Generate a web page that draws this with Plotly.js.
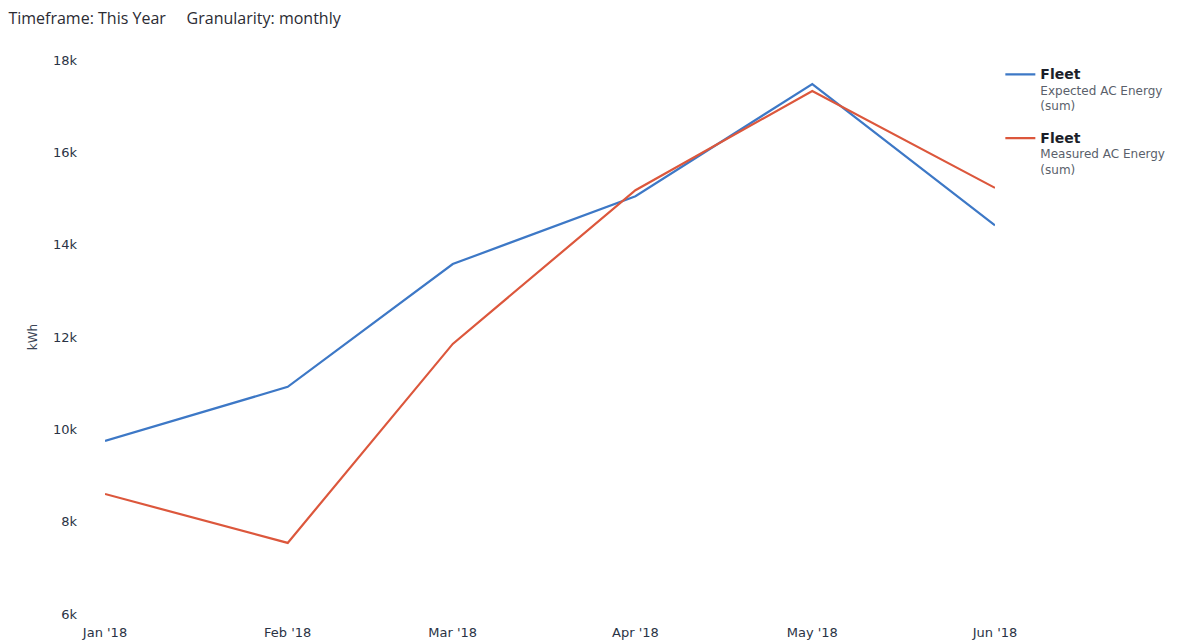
<!DOCTYPE html>
<html>
<head>
<meta charset="utf-8">
<script src="https://cdn.plot.ly/plotly-3.0.1.min.js"></script>
<style>html,body{margin:0;padding:0;background:#fff;}#chart{width:1202px;height:642px;}</style>
</head>
<body>
<div id="chart"></div>
<script>
const months = ['2018-01-01','2018-02-01','2018-03-01','2018-04-01','2018-05-01','2018-06-01'];
const expectedEnergy = [9750, 10920, 13580, 15050, 17480, 14420];
const measuredEnergy = [8600, 7540, 11850, 15180, 17330, 15230];
const seriesNames = [
  '<span style="font-size:14px"><b>Fleet</b></span><br><span style="color:#5a5f6b">Expected AC Energy<br>(sum)</span>',
  '<span style="font-size:14px"><b>Fleet</b></span><br><span style="color:#5a5f6b">Measured AC Energy<br>(sum)</span>'
];
const yTicks = [6000, 8000, 10000, 12000, 14000, 16000, 18000];

const traces = [
  {x: months, y: expectedEnergy, type: 'scatter', mode: 'lines', name: seriesNames[0],
   legendgroup: 'expected', line: {color: '#3d78c6', width: 2.2}},
  {x: months, y: measuredEnergy, type: 'scatter', mode: 'lines', name: seriesNames[1],
   legendgroup: 'measured', line: {color: '#dc573c', width: 2.2}}
];

const layout = {
  width: 1202, height: 642,
  paper_bgcolor: '#ffffff', plot_bgcolor: '#ffffff',
  margin: {l: 105, r: 207, t: 60, b: 28},
  font: {family: 'DejaVu Sans, sans-serif', size: 13, color: '#2a3345'},
  title: {text: 'Timeframe: This Year&nbsp;&nbsp;&nbsp;&nbsp;&nbsp;Granularity: monthly',
          x: 0.007, xanchor: 'left', y: 0.972, yanchor: 'middle',
          font: {family: 'Open Sans, sans-serif', size: 16, color: '#2b2b33'}},
  xaxis: {type: 'date', range: ['2018-01-01', '2018-06-01'], tickvals: months,
          tickformat: "%b '%y", showgrid: false, zeroline: false, showline: false,
          ticks: '', ticklabelstandoff: 9, tickfont: {size: 13, color: '#2a3345'}},
  yaxis: {range: [6000, 18000], tickvals: yTicks, tickformat: '~s', showgrid: false,
          zeroline: false, showline: false, ticks: '', ticklabelstandoff: 27,
          tickfont: {size: 13, color: '#2a3345'},
          title: {text: 'kWh', standoff: 12, font: {size: 12, color: '#3a4455'}}},
  showlegend: true,
  legend: {x: 1.006, xanchor: 'left', y: 1.0, yanchor: 'top', bgcolor: 'rgba(0,0,0,0)',
           font: {family: 'DejaVu Sans, sans-serif', size: 12, color: '#1c1f2a'},
           valign: 'top', traceorder: 'grouped', tracegroupgap: 14, itemwidth: 30}
};

Plotly.newPlot('chart', traces, layout, {displayModeBar: false, staticPlot: true});
</script>
</body>
</html>
